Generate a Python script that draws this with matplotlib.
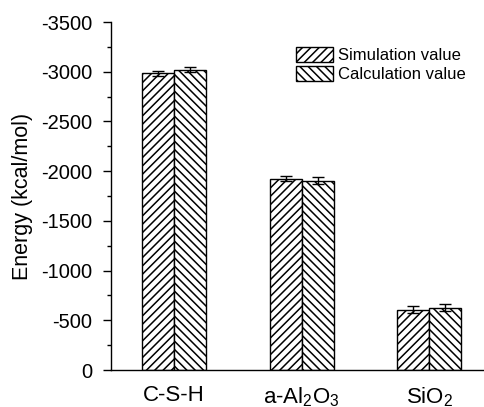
import matplotlib

matplotlib.use("Agg")
import matplotlib.pyplot as plt  # noqa: E402
import numpy as np  # noqa: E402
from matplotlib.ticker import MultipleLocator  # noqa: E402

plt.rcParams["font.family"] = ["Liberation Sans", "DejaVu Sans"]
plt.rcParams["mathtext.fontset"] = "custom"
plt.rcParams["mathtext.rm"] = "Liberation Sans"
plt.rcParams["mathtext.default"] = "regular"
plt.rcParams["axes.unicode_minus"] = False
plt.rcParams["hatch.linewidth"] = 1.1

categories = ["C-S-H", r"a-Al$_2$O$_3$", r"SiO$_2$"]
simulation = [-2985, -1925, -605]
simulation_err = [25, 25, 35]
calculation = [-3020, -1905, -625]
calculation_err = [27, 33, 35]

fig = plt.figure(figsize=(4.84, 4.07), dpi=100)
ax = fig.add_axes([110.5 / 484, 1 - 370 / 407, 1 - 110.5 / 484, (370 - 22) / 407])

x = np.arange(len(categories))
width = 0.25
ax.bar(x - width / 2, simulation, width, color="white", edgecolor="black", linewidth=1.0,
       hatch="////", label="Simulation value")
ax.bar(x + width / 2, calculation, width, color="white", edgecolor="black", linewidth=1.0,
       hatch="\\\\\\\\", label="Calculation value")
ax.errorbar(x - width / 2, simulation, yerr=simulation_err, fmt="none", ecolor="black",
            elinewidth=1.0, capsize=4, capthick=1.0)
ax.errorbar(x + width / 2, calculation, yerr=calculation_err, fmt="none", ecolor="black",
            elinewidth=1.0, capsize=4, capthick=1.0)

ax.set_ylim(0, -3500)
ax.set_xlim(-0.5, 2.43)
ax.yaxis.set_major_locator(MultipleLocator(500))
ax.yaxis.set_minor_locator(MultipleLocator(250))
ax.set_xticks(x)
ax.set_xticklabels(categories, fontsize=16)
ax.tick_params(axis="x", length=0, pad=11)
ax.tick_params(axis="y", which="major", length=6, width=1.0, pad=7, labelsize=14.5)
ax.tick_params(axis="y", which="minor", length=3, width=1.0)
ax.set_ylabel("Energy (kcal/mol)", fontsize=15.5, labelpad=6)

for side in ("top", "right"):
    ax.spines[side].set_visible(False)
for side in ("left", "bottom"):
    ax.spines[side].set_linewidth(1.0)

ax.legend(loc="upper left", bbox_to_anchor=(296 / 484, 1 - 47 / 407),
          bbox_transform=fig.transFigure, frameon=False, fontsize=12,
          handlelength=2.2, handleheight=1.0, handletextpad=0.35,
          labelspacing=0.15, borderpad=0, borderaxespad=0)

fig.savefig("out.png", dpi=100)
